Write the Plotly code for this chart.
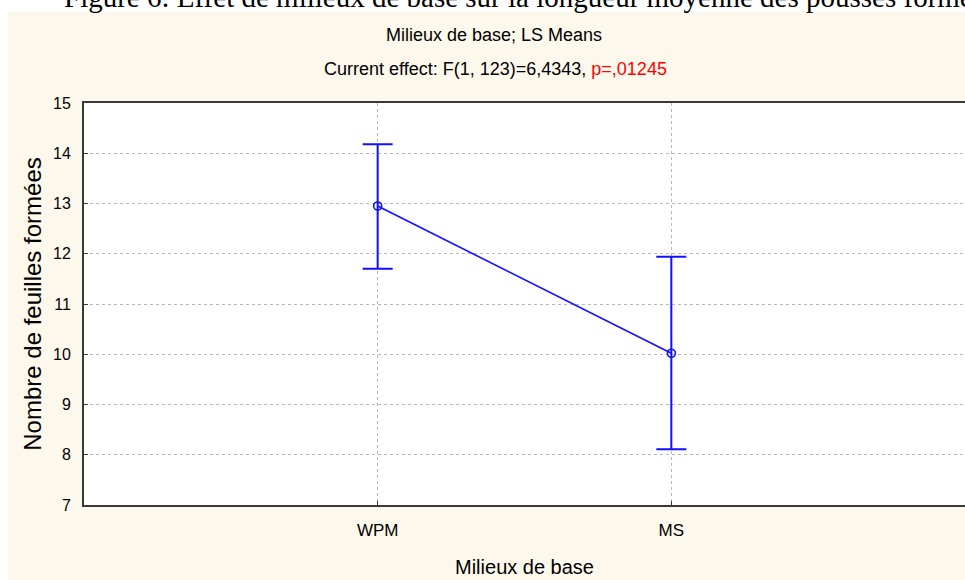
import plotly.graph_objects as go

# ---- data ----
categories = ["WPM", "MS"]
means = [12.95, 10.02]
upper = [14.18, 11.94]
lower = [11.70, 8.11]
y_ticks = [7, 8, 9, 10, 11, 12, 13, 14, 15]

err_plus = [u - m for u, m in zip(upper, means)]
err_minus = [m - l for m, l in zip(means, lower)]

W, H = 965, 580
L, R, T, B = 84, 0, 103, 75
PW, PH = W - L - R, H - T - B

def px_x(x):
    return (x - L) / PW

def px_y(y):
    return (H - B - y) / PH

BLUE = "#1010ff"
BEIGE = "#fdf8ec"

fig = go.Figure()
fig.add_trace(go.Scatter(
    x=categories, y=means, mode="lines+markers",
    line=dict(color=BLUE, width=1.6),
    marker=dict(symbol="circle-open", size=8, color=BLUE, line=dict(width=1.6)),
    error_y=dict(type="data", symmetric=False, array=err_plus, arrayminus=err_minus,
                 color=BLUE, thickness=2, width=15),
    showlegend=False, cliponaxis=False,
))

fig.update_layout(
    width=W, height=H,
    margin=dict(l=L, r=R, t=T, b=B),
    paper_bgcolor=BEIGE, plot_bgcolor="white",
    font=dict(family="Liberation Sans, Arial, sans-serif", color="black", size=15),
    shapes=[
        # white strip on top (document area above the chart panel)
        dict(type="rect", xref="paper", yref="paper", x0=px_x(-5), x1=px_x(W + 5),
             y0=px_y(12), y1=px_y(-5), fillcolor="white", line=dict(width=0), layer="below"),
        # white strip at left
        dict(type="rect", xref="paper", yref="paper", x0=px_x(-5), x1=px_x(8),
             y0=px_y(H + 5), y1=px_y(-5), fillcolor="white", line=dict(width=0), layer="below"),
    ],
    annotations=[
        dict(text="Figure 6: Effet de milieux de base sur la longueur moyenne des pousses formées",
             xref="paper", yref="paper", x=px_x(62), y=px_y(-3), xanchor="left", yanchor="middle",
             showarrow=False, font=dict(family="Liberation Serif, Times New Roman, serif", size=29)),
        dict(text="Milieux de base; LS Means",
             xref="paper", yref="paper", x=px_x(494), y=px_y(35), xanchor="center", yanchor="middle",
             showarrow=False, font=dict(size=18)),
        dict(text="Current effect: F(1, 123)=6,4343, <span style='color:#ff0000'>p=,01245</span>",
             xref="paper", yref="paper", x=px_x(495), y=px_y(69), xanchor="center", yanchor="middle",
             showarrow=False, font=dict(size=18)),
    ],
)

fig.update_xaxes(
    type="category", range=[-1, 2],
    showgrid=True, gridcolor="#b8b8b8", griddash="dot", gridwidth=1,
    showline=True, linecolor="#383838", linewidth=2, mirror=True,
    ticks="inside", ticklen=4, tickcolor="#383838", tickwidth=1,
    tickfont=dict(size=17), ticklabelstandoff=9,
    title=dict(text="Milieux de base", font=dict(size=20), standoff=21),
    zeroline=False,
)
fig.update_yaxes(
    range=[7, 15], tickvals=y_ticks, ticktext=[str(v) for v in y_ticks],
    showgrid=True, gridcolor="#b8b8b8", griddash="dot", gridwidth=1,
    showline=True, linecolor="#383838", linewidth=2,
    ticks="inside", ticklen=4, tickcolor="#383838", tickwidth=1,
    tickfont=dict(size=16), ticklabelstandoff=8,
    title=dict(text="Nombre de feuilles formées", font=dict(size=24), standoff=5),
    zeroline=False,
)

fig.write_html(
    "out.html",
    config={"displayModeBar": False},
    post_script="document.body.style.margin='0';document.body.style.overflow='hidden';",
)
